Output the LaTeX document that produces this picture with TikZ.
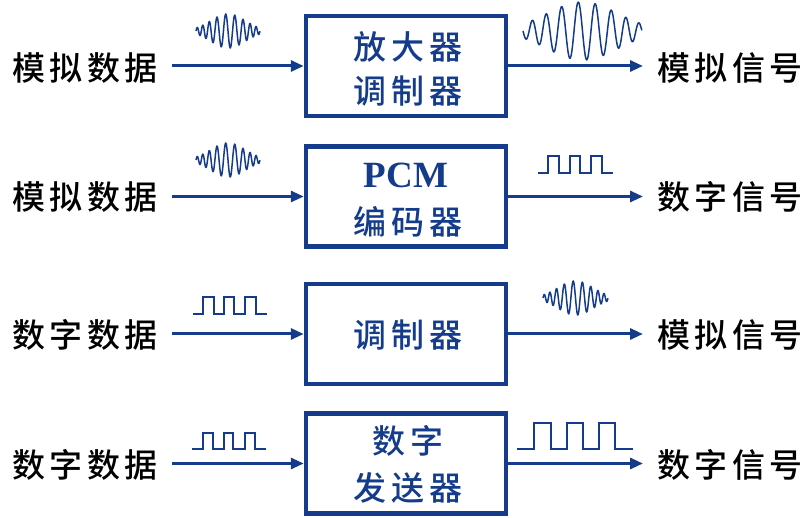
\documentclass[tikz,border=0pt]{standalone}
\usepackage{fontspec}
\setmainfont{Liberation Serif}
\newfontfamily\cjk[LetterSpace=14]{Noto Sans CJK SC Medium}
\usetikzlibrary{arrows.meta}
\definecolor{dblue}{RGB}{20,60,138}
\tikzset{
  box/.style={draw=dblue, line width=4.5pt, minimum width=200pt, minimum height=100pt, inner sep=0pt},
  txt/.style={font=\cjk\fontsize{33}{36}\selectfont, text=dblue, inner sep=0pt},
  lab/.style={font=\cjk\fontsize{33}{36}\selectfont, text=black, inner sep=0pt},
  arr/.style={draw=dblue, line width=3pt, -{Triangle[length=13pt,width=11pt]}},
  wave/.style={draw=dblue, line width=1.5pt},
  sq/.style={draw=dblue, line width=2pt}
}
\begin{document}
\begin{tikzpicture}[x=1pt,y=-1pt]
\useasboundingbox (0,0) rectangle (811,518);
% boxes
\node[box] (b1) at (406,66) {};
\node[box] (b2) at (406,196.5) {};
\node[box] (b3) at (406,334) {};
\node[box] (b4) at (406,463.5) {};
% box texts
\node[txt] (t1a) at (408,47) {放大器};
\node[txt] (t1b) at (408,91) {调制器};
\node[font=\rmfamily\bfseries\fontsize{37}{40}\selectfont, text=dblue, inner sep=0pt] (t2a) at (406,175) {PCM};
\node[txt] (t2b) at (408,222) {编码器};
\node[txt] (t3a) at (408,335) {调制器};
\node[txt] (t4a) at (408,441) {数字};
\node[txt] (t4b) at (408,488) {发送器};
% labels
\node[lab] (l1) at (85,68) {模拟数据};
\node[lab] (l2) at (85,197) {模拟数据};
\node[lab] (l3) at (85,335) {数字数据};
\node[lab] (l4) at (85,465) {数字数据};
\node[lab] (r1) at (730,68) {模拟信号};
\node[lab] (r2) at (730,197) {数字信号};
\node[lab] (r3) at (730,335) {模拟信号};
\node[lab] (r4) at (730,465) {数字信号};
% arrow endpoints
\coordinate (s1) at (172,66);
\coordinate (s2) at (172,196.5);
\coordinate (s3) at (172,334);
\coordinate (s4) at (172,463.5);
\coordinate (e1) at (643,66);
\coordinate (e2) at (643,196.5);
\coordinate (e3) at (643,334);
\coordinate (e4) at (643,463.5);
\foreach \i in {1,2,3,4}{
  \draw[arr] (s\i) -- (b\i.west);
  \draw[arr] (b\i.east) -- (e\i);
}
% waves
\draw[wave] plot[domain=0:1, samples=300, smooth] ({196+64*\x},{31-17*exp(-((\x-0.5)/0.38)^2)*sin(360*(7*\x+8*(\x-0.5)^3))});
\draw[wave] plot[domain=0:1, samples=400, smooth] ({523+119*\x},{31-29*exp(-((\x-0.5)/0.42)^2)*sin(360*(7*\x+4*(\x-0.5)^3))});
\draw[wave] plot[domain=0:1, samples=300, smooth] ({196+64*\x},{160-17*exp(-((\x-0.5)/0.38)^2)*sin(360*(7*\x+8*(\x-0.5)^3))});
\draw[wave] plot[domain=0:1, samples=300, smooth] ({543+65*\x},{298-17*exp(-((\x-0.5)/0.38)^2)*sin(360*(7*\x+8*(\x-0.5)^3))});
% square waves
\draw[sq] (538,173) -- (548,173) -- (548,156) -- (559,156) -- (559,173) -- (570,173) -- (570,156) -- (580,156) -- (580,173) -- (591,173) -- (591,156) -- (602,156) -- (602,173) -- (613,173);
\draw[sq] (193,314) -- (203,314) -- (203,297) -- (214,297) -- (214,314) -- (224,314) -- (224,297) -- (234,297) -- (234,314) -- (245,314) -- (245,297) -- (256,297) -- (256,314) -- (267,314);
\draw[sq] (192,449) -- (203,449) -- (203,433) -- (213,433) -- (213,449) -- (224,449) -- (224,433) -- (233,433) -- (233,449) -- (245,449) -- (245,433) -- (255,433) -- (255,449) -- (266,449);
\draw[sq] (517,449) -- (534,449) -- (534,423) -- (551,423) -- (551,449) -- (567,449) -- (567,423) -- (583,423) -- (583,449) -- (599,449) -- (599,423) -- (615,423) -- (615,449) -- (633,449);
\end{tikzpicture}
\end{document}
